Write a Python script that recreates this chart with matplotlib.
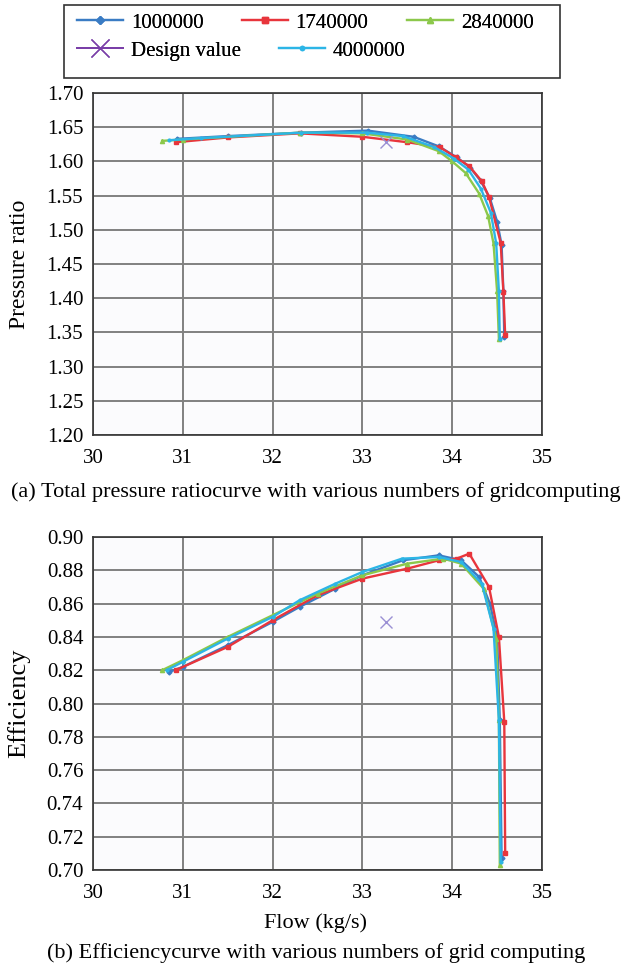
import numpy as np
import matplotlib.pyplot as plt
from matplotlib.lines import Line2D
from matplotlib.patches import Rectangle

plt.rcParams['font.family'] = ['Liberation Serif', 'DejaVu Serif']

# ---- pressure ratio curves (flow kg/s, ratio)
pr_1000000_x = [30.94, 31.5, 32.32, 33.06, 33.57, 33.85, 34.05, 34.2, 34.32, 34.42, 34.5, 34.55, 34.57, 34.58]
pr_1000000_y = [1.633, 1.637, 1.642, 1.645, 1.636, 1.622, 1.606, 1.591, 1.571, 1.546, 1.512, 1.478, 1.41, 1.344]
pr_1740000_x = [30.92, 31.5, 32.3, 33.0, 33.5, 33.86, 34.04, 34.19, 34.33, 34.41, 34.54, 34.57, 34.59]
pr_1740000_y = [1.628, 1.635, 1.641, 1.636, 1.628, 1.621, 1.606, 1.593, 1.571, 1.548, 1.481, 1.409, 1.346]
pr_2840000_x = [30.77, 31.0, 32.3, 33.0, 33.5, 33.85, 34.0, 34.15, 34.3, 34.4, 34.46, 34.5, 34.52]
pr_2840000_y = [1.630, 1.632, 1.642, 1.641, 1.632, 1.615, 1.600, 1.583, 1.553, 1.52, 1.48, 1.41, 1.340]
pr_4000000_x = [30.85, 31.2, 32.32, 33.05, 33.45, 33.8, 34.02, 34.18, 34.32, 34.43, 34.49, 34.52, 34.53]
pr_4000000_y = [1.631, 1.634, 1.642, 1.642, 1.637, 1.621, 1.604, 1.588, 1.560, 1.525, 1.48, 1.41, 1.340]
pr_design = (33.26, 1.628)

# ---- efficiency curves
ef_1000000_x = [30.85, 31.0, 31.5, 32.0, 32.3, 32.7, 33.0, 33.45, 33.85, 34.1, 34.3, 34.42, 34.5, 34.53, 34.55]
ef_1000000_y = [0.819, 0.822, 0.835, 0.849, 0.858, 0.869, 0.877, 0.886, 0.889, 0.886, 0.876, 0.860, 0.840, 0.790, 0.707]
ef_1740000_x = [30.92, 31.5, 32.0, 32.5, 33.0, 33.5, 33.85, 34.05, 34.19, 34.41, 34.52, 34.58, 34.59]
ef_1740000_y = [0.820, 0.834, 0.850, 0.865, 0.875, 0.881, 0.886, 0.887, 0.890, 0.870, 0.840, 0.789, 0.710]
ef_2840000_x = [30.77, 31.0, 31.5, 32.0, 32.5, 33.0, 33.5, 33.9, 34.1, 34.35, 34.49, 34.52, 34.53]
ef_2840000_y = [0.820, 0.826, 0.840, 0.853, 0.866, 0.877, 0.884, 0.887, 0.884, 0.869, 0.839, 0.790, 0.703]
ef_4000000_x = [30.82, 31.0, 31.5, 32.0, 32.3, 32.7, 33.0, 33.44, 33.85, 34.1, 34.33, 34.46, 34.52, 34.54]
ef_4000000_y = [0.820, 0.825, 0.839, 0.852, 0.862, 0.872, 0.879, 0.887, 0.888, 0.885, 0.872, 0.845, 0.790, 0.705]
ef_design = (33.26, 0.849)

c_blue = '#3a7cc4'
c_red = '#e8353c'
c_green = '#8cc84b'
c_purple = '#7a3fa8'
c_cyan = '#2cb5e6'

W, H = 632, 976
fig = plt.figure(figsize=(W / 100, H / 100), dpi=100)
ax1 = fig.add_axes([93 / W, 1 - 435 / H, 449 / W, 342 / H])
ax2 = fig.add_axes([93 / W, 1 - 870 / H, 449 / W, 333 / H])


def style_axes(ax, ylim, yticks):
    ax.set_facecolor('#fbfbfd')
    ax.set_xlim(30, 35)
    ax.set_xticks(np.arange(30, 36, 1))
    ax.set_ylim(*ylim)
    ax.set_yticks(yticks)
    ax.set_yticklabels(['%.2f' % v for v in yticks])
    ax.grid(True, color='#808080', linewidth=1.4)
    ax.set_axisbelow(True)
    for s in ax.spines.values():
        s.set_color('#333333')
        s.set_linewidth(1.2)
    ax.tick_params(length=0, labelsize=15)
    ax.tick_params(axis='x', pad=10)
    ax.tick_params(axis='y', pad=7)


def draw(ax, data, design):
    (x1, y1), (x2, y2), (x3, y3), (x4, y4) = data
    ax.plot(x1, y1, color=c_blue, lw=1.7, marker='D', ms=2.5)
    ax.plot(x2, y2, color=c_red, lw=1.7, marker='s', ms=3)
    ax.plot(x3, y3, color=c_green, lw=1.7, marker='^', ms=3)
    ax.plot(x4, y4, color=c_cyan, lw=1.7, marker='o', ms=2)
    ax.plot([design[0]], [design[1]], color='#9a8fd4', marker='x', ms=9, mew=1.0, ls='none')


draw(ax1, [(pr_1000000_x, pr_1000000_y), (pr_1740000_x, pr_1740000_y),
           (pr_2840000_x, pr_2840000_y), (pr_4000000_x, pr_4000000_y)], pr_design)
draw(ax2, [(ef_1000000_x, ef_1000000_y), (ef_1740000_x, ef_1740000_y),
           (ef_2840000_x, ef_2840000_y), (ef_4000000_x, ef_4000000_y)], ef_design)

style_axes(ax1, (1.20, 1.70), np.arange(1.20, 1.701, 0.05))
style_axes(ax2, (0.70, 0.90), np.arange(0.70, 0.901, 0.02))

ax1.set_ylabel('Pressure ratio', fontsize=17)
ax2.set_ylabel('Efficiency', fontsize=19)
ax1.yaxis.set_label_coords((30 - 93) / 449, 0.5)
ax2.yaxis.set_label_coords((30 - 93) / 449, 0.5)

fig.text(0.5, 1 - 923 / H, 'Flow (kg/s)', ha='center', va='center', fontsize=16)
fig.text(0.5, 1 - 492 / H, '(a) Total pressure ratiocurve with various numbers of gridcomputing',
         ha='center', va='center', fontsize=16)
fig.text(0.5, 1 - 953 / H, '(b) Efficiencycurve with various numbers of grid computing',
         ha='center', va='center', fontsize=16)

# legend: two independent rows inside one frame
h = {
    '1000000': Line2D([], [], color=c_blue, lw=1.6, marker='D', ms=4),
    '1740000': Line2D([], [], color=c_red, lw=1.6, marker='s', ms=5),
    '2840000': Line2D([], [], color=c_green, lw=1.6, marker='^', ms=5),
    'Design value': Line2D([], [], color=c_purple, lw=1.4, marker='x', ms=13, mew=1.0),
    '4000000': Line2D([], [], color=c_cyan, lw=1.6, marker='o', ms=3),
}
rows = [(['1000000', '1740000', '2840000'], 23), (['Design value', '4000000'], 51)]
for names, ypix in rows:
    lg = fig.legend([h[k] for k in names], names, ncol=len(names), loc='center left',
                    bbox_to_anchor=(77 / W, 1 - ypix / H), fontsize=15, frameon=False,
                    handlelength=2.2, handletextpad=0.38, columnspacing=1.85,
                    borderpad=0, borderaxespad=0)
    fig.add_artist(lg)

fig.add_artist(Rectangle((64 / W, 1 - 78 / H), 496 / W, 73 / H, transform=fig.transFigure,
                         fill=False, edgecolor='#333333', linewidth=1.2))

fig.savefig('out.png', dpi=100)
